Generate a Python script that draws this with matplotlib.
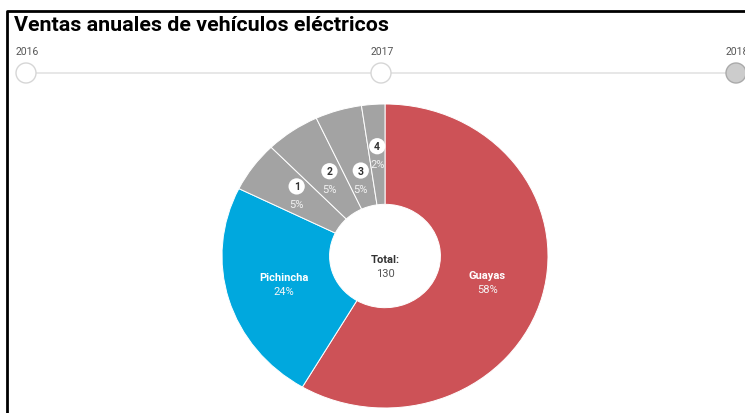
import numpy as np
import matplotlib.pyplot as plt
from matplotlib.patches import Ellipse

plt.rcParams['font.family'] = ['Roboto', 'DejaVu Sans']

# datos del gráfico
regiones = ['Guayas', 'Pichincha', '1', '2', '3', '4']
ventas = [76, 31, 7, 7, 6, 3]
colores = ['#CD5257', '#00A8DE', '#A3A3A3', '#A3A3A3', '#A3A3A3', '#A3A3A3']
anios = ['2016', '2017', '2018']
anio_activo = 2

total = sum(ventas)

fig = plt.figure(figsize=(7.45, 4.14), dpi=100)

# capa de fondo en coordenadas de pixel
bg = fig.add_axes([0, 0, 1, 1])
bg.set_xlim(0, 745)
bg.set_ylim(414, 0)
bg.axis('off')

# marco
bg.plot([7, 7, 745], [414, 12, 12], color='black', lw=2, solid_capstyle='butt')
bg.text(14, 31, 'Ventas anuales de vehículos eléctricos', fontsize=15.4,
        fontweight='bold', color='black', va='baseline', ha='left')

# linea de tiempo
x0, x1, yl = 26, 736, 74
xs = np.linspace(x0, x1, len(anios))
bg.plot([x0, x1], [yl, yl], color='#E3E3E3', lw=1.2, zorder=1)
for i, (x, a) in enumerate(zip(xs, anios)):
    fc = '#CCCCCC' if i == anio_activo else 'white'
    ec = '#AAAAAA' if i == anio_activo else '#D6D6D6'
    bg.add_patch(Ellipse((x, yl), 20, 20, facecolor=fc, edgecolor=ec, lw=1, zorder=2))
    bg.text(x + 1, 52, a, fontsize=7.5, color='#555555', ha='center', va='center')

# dona
cx, cy, rx, ry = 385, 257, 163, 152
ax = fig.add_axes([(cx - rx) / 745, (414 - cy - ry) / 414, 2 * rx / 745, 2 * ry / 414])
ax.patch.set_alpha(0)
hueco = 0.34
wedges, _ = ax.pie(ventas, colors=colores, startangle=90, counterclock=False,
                   radius=1, wedgeprops=dict(width=1 - hueco, edgecolor='white', linewidth=0.7))
ax.set_aspect('auto')
ax.set_xlim(-1, 1)
ax.set_ylim(-1, 1)
ax.axis('off')

radios_etq = [0.65, 0.65, 0.67, 0.6, 0.52, 0.66]
for w, nombre, v, r in zip(wedges, regiones, ventas, radios_etq):
    ang = np.deg2rad((w.theta1 + w.theta2) / 2)
    x, y = r * np.cos(ang), r * np.sin(ang)
    pct = '%d%%' % round(100 * v / total)
    if nombre.isdigit():
        ax.annotate(nombre, (x, y), xytext=(0, 7), textcoords='offset points',
                    ha='center', va='center', fontsize=7.5, fontweight='bold', color='#333333',
                    bbox=dict(boxstyle='circle,pad=0.3', fc='white', ec='none'))
        ax.annotate(pct, (x, y), xytext=(0, -6), textcoords='offset points',
                    ha='center', va='center', fontsize=8, color='#F2F2F2')
    else:
        ax.annotate(nombre, (x, y), xytext=(0, 5), textcoords='offset points',
                    ha='center', va='center', fontsize=8, fontweight='bold', color='white')
        ax.annotate(pct, (x, y), xytext=(0, -5), textcoords='offset points',
                    ha='center', va='center', fontsize=8, color='#F5F5F5')

ax.text(0, -0.02, 'Total:', ha='center', va='center', fontsize=8, fontweight='bold', color='#333333')
ax.text(0, -0.11, str(total), ha='center', va='center', fontsize=8, color='#555555')

fig.savefig('out.png', dpi=100)
